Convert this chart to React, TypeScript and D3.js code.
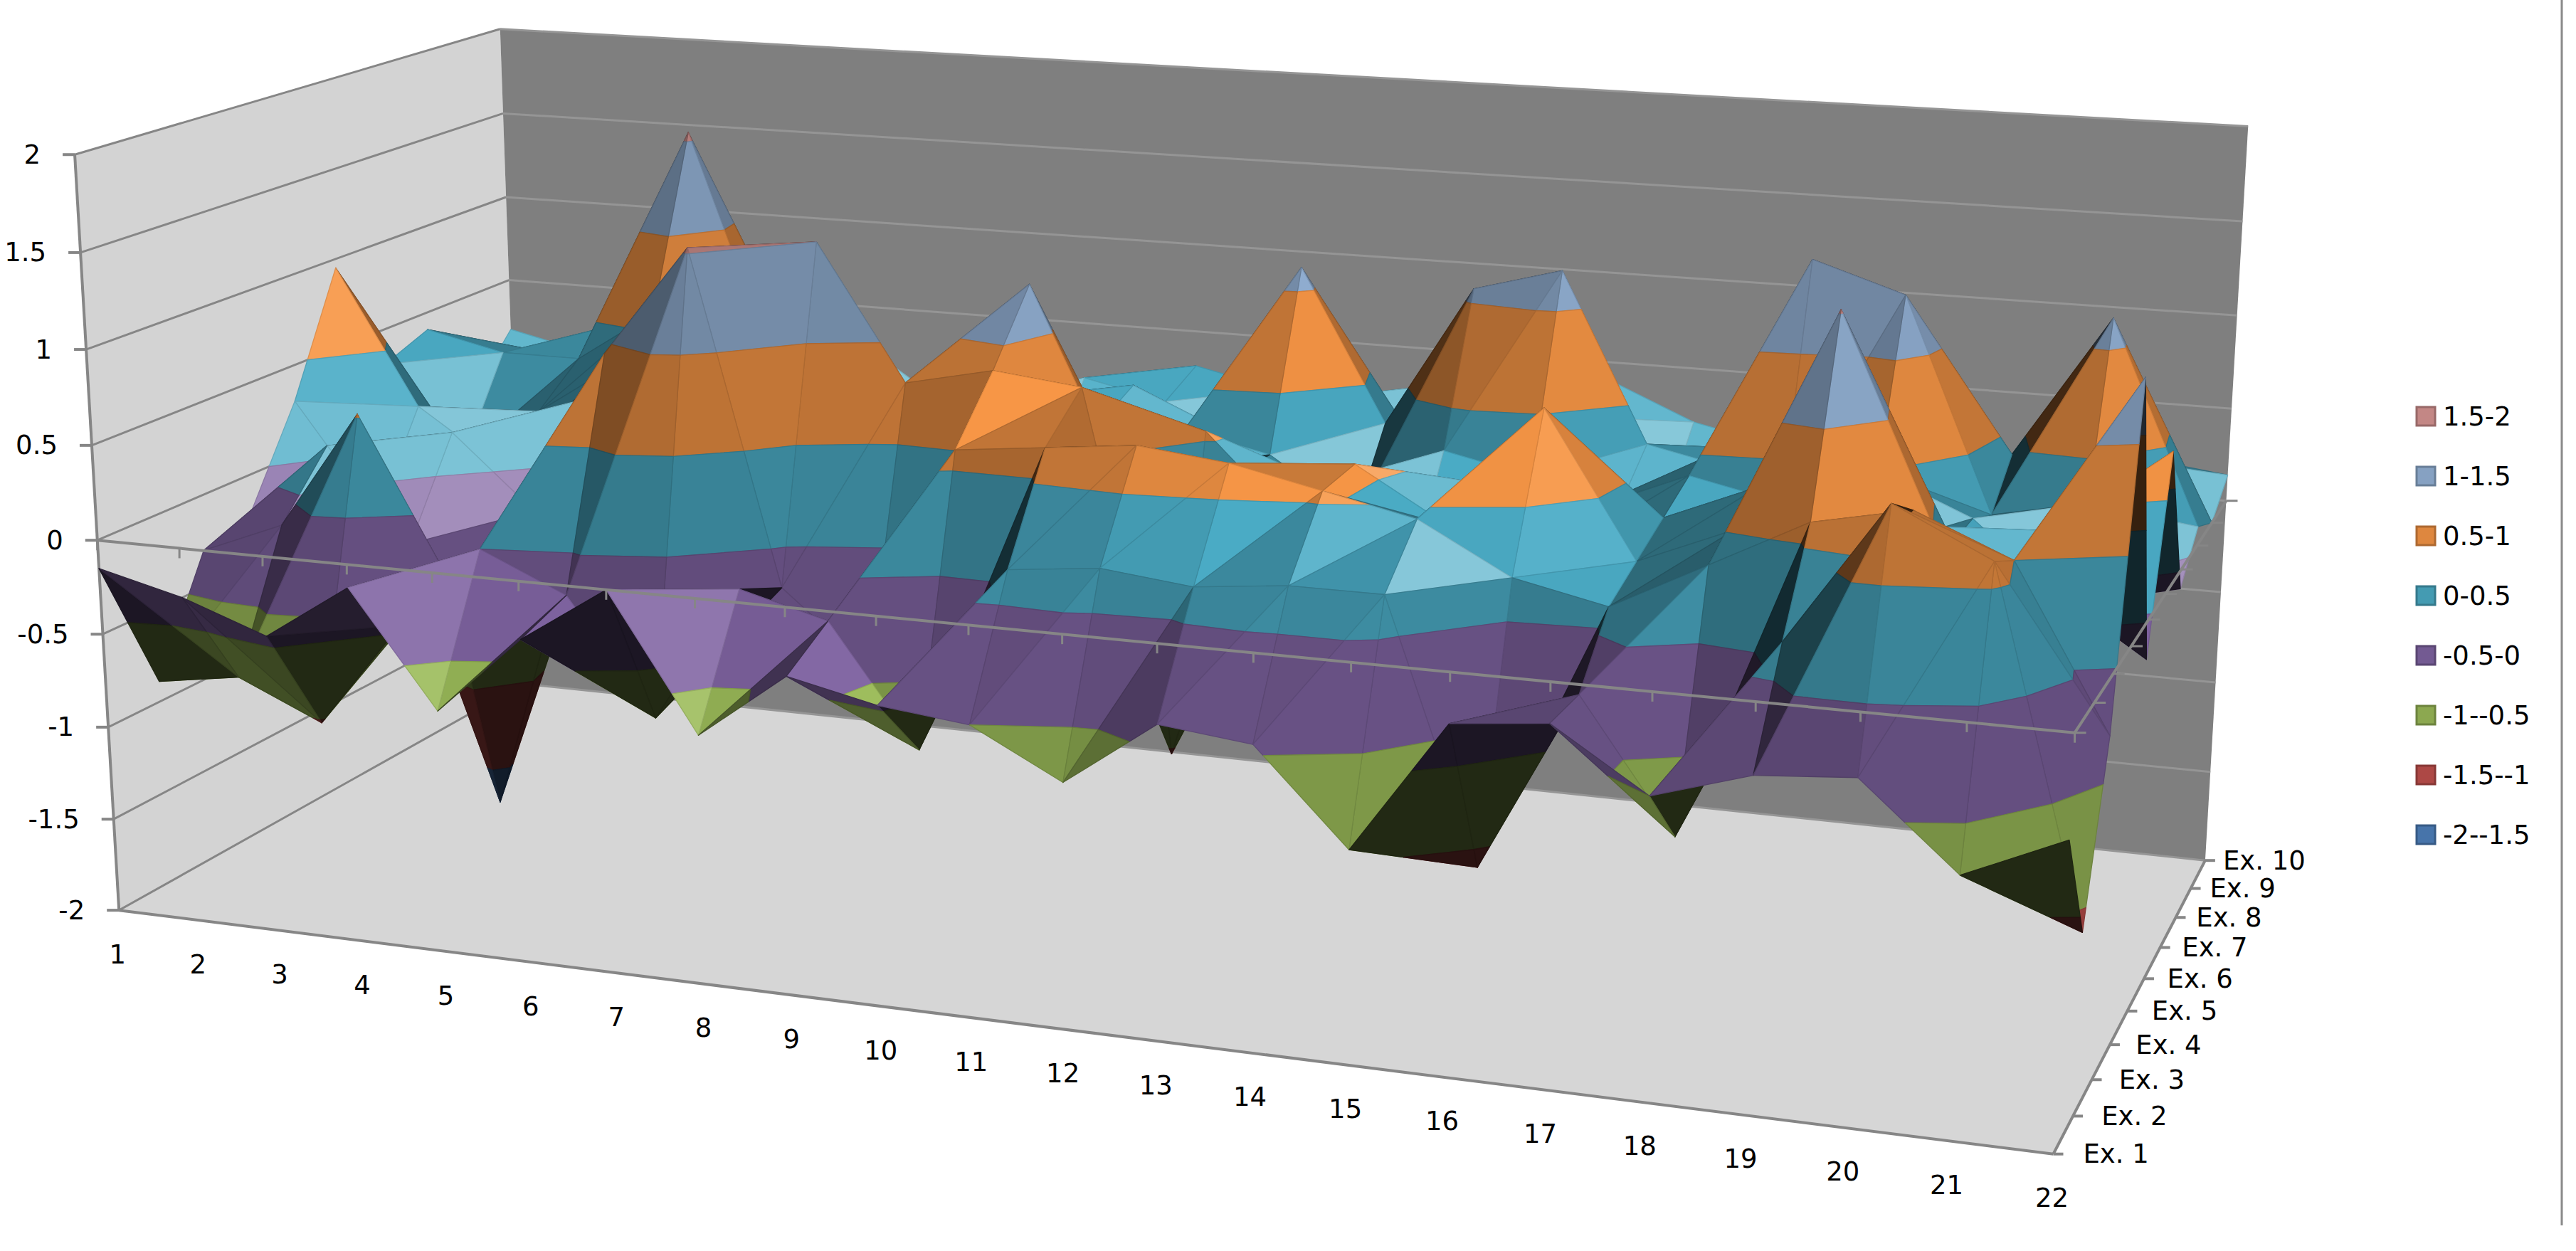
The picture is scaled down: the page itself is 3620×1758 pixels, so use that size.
import * as d3 from "d3";

// categories along the front, series along the depth
const categories = Array.from({ length: 22 }, (_, i) => String(i + 1));
const seriesNames = ["Ex. 1", "Ex. 2", "Ex. 3", "Ex. 4", "Ex. 5", "Ex. 6", "Ex. 7", "Ex. 8", "Ex. 9", "Ex. 10"];

// values, one array per series (22 categories each)
const ex1 = [-0.15, -0.26, -0.42, -0.12, -0.72, -0.3, 0.0, -0.7, -0.35, -0.45, -0.5, -0.74, -0.4, -0.45, -0.92, -0.25, -0.2, -0.5, -0.35, -0.31, -0.72, -0.5];
const ex2 = [-0.89, -0.82, -1.02, -0.45, 0.0, -0.2, -0.8, -0.08, -0.2, -0.82, 0.15, 0.2, 0.15, 0.2, 0.2, -1.11, -0.2, -0.85, 0.15, 0.85, 0.62, -1.1];
const ex3 = [-0.3, -0.12, 0.52, -0.3, -0.2, 0.95, 1.53, -0.2, -0.58, 0.6, 0.65, 0.7, 0.65, 0.55, 0.45, 0.2, 0.1, 0.35, 0.6, 0.7, 0.5, -0.3];
const ex4 = [-0.2, 0.2, -0.3, -1.7, -0.2, 0.3, -0.25, 1.5, 0.8, 0.9, 0.85, -1.03, 0.5, 0.57, 0.3, 0.93, 0.2, 0.4, 1.52, 0.5, 0.3, 1.3];
const ex5 = [0.3, -0.3, 0.2, -0.2, 0.1, 0.4, 0.3, 0.5, 0.2, 1.25, 0.3, 0.55, 0.1, 0.2, 0.4, 0.1, 0.3, 0.5, 0.2, 0.3, 0.4, -0.2];
const ex6 = [0.95, 0.2, -0.1, 0.3, -0.2, 0.2, 0.4, 0.1, 0.3, 0.3, -0.1, 0.3, 0.2, -0.2, 0.3, 0.2, 0.4, 0.3, 0.5, 0.3, -0.1, 0.72];
const ex7 = [0.3, -0.2, 0.1, 0.4, 0.2, -0.2, 0.3, 0.2, 0.4, 0.3, 0.3, 0.2, -0.1, 0.3, 0.2, 0.1, 0.4, 1.45, 1.3, 0.2, 0.3, -0.1];
const ex8 = [0.4, 0.3, 0.3, 0.6, -0.2, 0.1, 0.3, 0.2, -0.1, 0.4, 0.2, 1.12, 0.3, 1.07, 1.2, 0.3, 0.2, 0.4, 0.3, 0.4, 1.15, 0.1];
const ex9 = [-0.1, 0.2, 0.4, 1.55, 0.3, -0.2, 0.2, 0.1, 0.3, 0.2, -0.2, 0.3, 0.1, 0.2, 0.3, -0.1, 0.2, 0.3, 0.1, 0.2, 0.3, 0.0];
const ex10 = [0.2, 0.1, 0.3, 0.5, 0.1, 0.2, -0.1, 0.2, 0.1, 0.3, 0.2, 0.1, 0.3, 0.2, 0.4, 0.2, 0.1, 0.3, 0.2, -0.1, 0.2, 0.14];
const seriesValues = [ex1, ex2, ex3, ex4, ex5, ex6, ex7, ex8, ex9, ex10];

// value bands (legend order, top to bottom)
const bandLabels = ["1.5-2", "1-1.5", "0.5-1", "0-0.5", "-0.5-0", "-1--0.5", "-1.5--1", "-2--1.5"];
const bandColors = ["#D99694", "#95B3D7", "#F79646", "#4BACC6", "#8064A2", "#9BBB59", "#C0504D", "#4F81BD"];
const bandLow = [1.5, 1, 0.5, 0, -0.5, -1, -1.5, -2];
const zTicks = [2, 1.5, 1, 0.5, 0, -0.5, -1, -1.5, -2];

const W = 3620;
const H = 1758;
const FONT = "DejaVu Sans";

// box corners in data space -> pixel positions, used to fit the perspective camera
const calib: [number, number, number, number, number][] = [
  [0, 0, 2, 106, 217],
  [0, 0, 0, 136, 759],
  [0, 0, -2, 167, 1279],
  [0, 9, 2, 702, 40],
  [0, 9, 0.5, 716, 395],
  [21, 9, 2, 3158, 177],
  [21, 9, 0, 3131, 704],
  [21, 9, -2, 3097, 1209],
  [21, 0, -2, 2885, 1622],
  [21, 0, 0, 2915, 1031],
  [10, 0, -2, 1367, 1430],
  [21, 4, -2, 2991, 1420],
];

type P3 = [number, number, number];

// direct linear transform, least squares through normal equations
function solveCamera(pts: [number, number, number, number, number][]) {
  const rows: number[][] = [];
  const rhs: number[] = [];
  for (const [X, Y, Z, px, py] of pts) {
    const u = px / 1000;
    const v = py / 1000;
    rows.push([X, Y, Z, 1, 0, 0, 0, 0, -u * X, -u * Y, -u * Z]);
    rhs.push(u);
    rows.push([0, 0, 0, 0, X, Y, Z, 1, -v * X, -v * Y, -v * Z]);
    rhs.push(v);
  }
  const n = 11;
  const M = Array.from({ length: n }, () => new Array(n + 1).fill(0));
  rows.forEach((r, k) => {
    for (let i = 0; i < n; i++) {
      for (let j = 0; j < n; j++) M[i][j] += r[i] * r[j];
      M[i][n] += r[i] * rhs[k];
    }
  });
  for (let c = 0; c < n; c++) {
    let piv = c;
    for (let r = c + 1; r < n; r++) if (Math.abs(M[r][c]) > Math.abs(M[piv][c])) piv = r;
    [M[c], M[piv]] = [M[piv], M[c]];
    for (let r = 0; r < n; r++) {
      if (r === c) continue;
      const f = M[r][c] / M[c][c];
      for (let j = c; j <= n; j++) M[r][j] -= f * M[c][j];
    }
  }
  return M.map((r, i) => r[n] / r[i]);
}

const cam = solveCamera(calib);
const project = (X: number, Y: number, Z: number): [number, number, number] => {
  const w = cam[8] * X + cam[9] * Y + cam[10] * Z + 1;
  return [
    (1000 * (cam[0] * X + cam[1] * Y + cam[2] * Z + cam[3])) / w,
    (1000 * (cam[4] * X + cam[5] * Y + cam[6] * Z + cam[7])) / w,
    w,
  ];
};

const line = d3.line<[number, number]>();
const polyPath = (pts: P3[]) => line(pts.map(p => project(p[0], p[1], p[2]).slice(0, 2) as [number, number])) + "Z";
const segPath = (a: P3, b: P3) => polyPath([a, b]).replace("Z", "");

// clip a polygon to fn(p) >= 0
function clip(poly: P3[], fn: (p: P3) => number): P3[] {
  const out: P3[] = [];
  for (let i = 0; i < poly.length; i++) {
    const p = poly[i];
    const q = poly[(i + 1) % poly.length];
    const fp = fn(p);
    const fq = fn(q);
    if (fp >= 0) out.push(p);
    if (fp >= 0 !== fq >= 0) {
      const t = fp / (fp - fq);
      out.push([p[0] + t * (q[0] - p[0]), p[1] + t * (q[1] - p[1]), p[2] + t * (q[2] - p[2])]);
    }
  }
  return out;
}

// lighting: mostly from above, leaning right and front
const light = (() => {
  const l = [0.5, -0.45, 0.74];
  const m = Math.hypot(l[0], l[1], l[2]);
  return l.map(v => v / m);
})();
const scaleXYZ = [1, 1.05, 2.1];

function shade(base: string, tri: P3[]) {
  const a = tri[0].map((v, i) => v * scaleXYZ[i]);
  const b = tri[1].map((v, i) => v * scaleXYZ[i]);
  const c = tri[2].map((v, i) => v * scaleXYZ[i]);
  const u = [b[0] - a[0], b[1] - a[1], b[2] - a[2]];
  const v = [c[0] - a[0], c[1] - a[1], c[2] - a[2]];
  let n = [u[1] * v[2] - u[2] * v[1], u[2] * v[0] - u[0] * v[2], u[0] * v[1] - u[1] * v[0]];
  if (n[2] < 0) n = n.map(x => -x);
  const m = Math.hypot(n[0], n[1], n[2]) || 1;
  const d = Math.max(0, (n[0] * light[0] + n[1] * light[1] + n[2] * light[2]) / m);
  const f = 0.22 + 0.7 * d + Math.max(0, d - 0.85) * 2.5;
  const col = d3.rgb(base);
  if (f <= 1) return d3.rgb(col.r * f, col.g * f, col.b * f).formatHex();
  return d3.interpolateRgb(col, "#ffffff")(Math.min(0.4, (f - 1) * 1.2));
}

const bandOf = d3.scaleThreshold<number, number>().domain([-1.5, -1, -0.5, 0, 0.5, 1, 1.5]).range([7, 6, 5, 4, 3, 2, 1, 0]);

export default function App() {
  const grid = seriesValues;
  const nx = categories.length - 1;
  const ny = seriesNames.length - 1;

  // triangles, diagonal split of every cell
  const tris: P3[][] = [];
  for (let y = 0; y < ny; y++) {
    for (let x = 0; x < nx; x++) {
      const a: P3 = [x, y, grid[y][x]];
      const b: P3 = [x + 1, y, grid[y][x + 1]];
      const c: P3 = [x + 1, y + 1, grid[y + 1][x + 1]];
      const d: P3 = [x, y + 1, grid[y + 1][x]];
      tris.push([a, b, c], [a, c, d]);
    }
  }
  const depth = (t: P3[]) => d3.mean(t, p => project(p[0], p[1], p[2])[2]) as number;
  tris.sort((s, t) => depth(t) - depth(s));

  const facets: { d: string; fill: string }[] = [];
  tris.forEach(t => {
    const zs = t.map(p => p[2]);
    const lo = bandOf(d3.max(zs) as number);
    const hi = bandOf(d3.min(zs) as number);
    for (let b = lo; b <= hi; b++) {
      const z0 = bandLow[b];
      const z1 = z0 + 0.5;
      const poly = clip(clip(t, p => p[2] - z0), p => z1 - p[2]);
      if (poly.length < 3) continue;
      facets.push({ d: polyPath(poly), fill: shade(bandColors[b], t) });
    }
  });

  const leftWall: P3[] = [[0, 0, -2], [0, ny, -2], [0, ny, 2], [0, 0, 2]];
  const backWall: P3[] = [[0, ny, -2], [nx, ny, -2], [nx, ny, 2], [0, ny, 2]];
  const floor: P3[] = [[0, 0, -2], [nx, 0, -2], [nx, ny, -2], [0, ny, -2]];
  const axisGray = "#868686";

  return (
    <svg width={W} height={H} style={{ position: "absolute", left: 0, top: 0, background: "#fff" }} fontFamily={FONT}>
      <rect width={W} height={H} fill="#fff" />
      {/* walls and floor */}
      <path d={polyPath(leftWall)} fill="#D3D3D3" />
      <path d={polyPath(backWall)} fill="#7F7F7F" />
      <path d={polyPath(floor)} fill="#D6D6D6" />
      {zTicks.map(z => (
        <path key={"lg" + z} d={segPath([0, 0, z], [0, ny, z])} stroke={axisGray} strokeWidth={3} fill="none" />
      ))}
      {zTicks.map(z => (
        <path key={"bg" + z} d={segPath([0, ny, z], [nx, ny, z])} stroke="#959595" strokeWidth={3} fill="none" />
      ))}
      <path d={segPath([0, 0, -2], [nx, 0, -2])} stroke={axisGray} strokeWidth={4} fill="none" />
      <path d={segPath([nx, 0, -2], [nx, ny, -2])} stroke={axisGray} strokeWidth={4} fill="none" />
      <path d={segPath([0, 0, -2], [0, 0, 2])} stroke={axisGray} strokeWidth={4} fill="none" />

      {/* surface */}
      <g strokeWidth={1.3} strokeLinejoin="round">
        {facets.map((f, i) => (
          <path key={i} d={f.d} fill={f.fill} stroke={d3.rgb(f.fill).darker(0.3).formatHex()} />
        ))}
      </g>

      {/* axis lines at zero with ticks */}
      <path d={segPath([0, 0, 0], [nx, 0, 0])} stroke={axisGray} strokeWidth={4} fill="none" />
      <path d={segPath([nx, 0, 0], [nx, ny, 0])} stroke={axisGray} strokeWidth={4} fill="none" />
      {categories.map((_, x) => {
        const [px, py] = project(x, 0, 0);
        return <line key={"ct" + x} x1={px} y1={py} x2={px} y2={py + 14} stroke={axisGray} strokeWidth={3} />;
      })}
      {seriesNames.map((_, y) => {
        const [px, py] = project(nx, y, 0);
        return <line key={"st" + y} x1={px} y1={py} x2={px + 16} y2={py} stroke={axisGray} strokeWidth={3} />;
      })}

      {/* value axis */}
      {zTicks.map(z => {
        const [px, py] = project(0, 0, z);
        return (
          <g key={"zt" + z}>
            <line x1={px - 17} y1={py} x2={px} y2={py} stroke={axisGray} strokeWidth={4} />
            <text x={px - 48} y={py} textAnchor="end" dominantBaseline="central" fontSize={37} fill="#000">
              {String(z)}
            </text>
          </g>
        );
      })}

      {/* category labels */}
      {categories.map((c, x) => {
        const [px, py] = project(x, 0, -2);
        return (
          <text key={"cl" + c} x={px - 2} y={py + 62} textAnchor="middle" dominantBaseline="central" fontSize={37} fill="#000">
            {c}
          </text>
        );
      })}

      {/* series labels */}
      {seriesNames.map((s, y) => {
        const [px, py] = project(nx, y, -2);
        return (
          <g key={"sl" + s}>
            <line x1={px} y1={py} x2={px + 14} y2={py} stroke={axisGray} strokeWidth={4} />
            <text x={px + 42 - (17 * y) / ny} y={py} dominantBaseline="central" fontSize={37} fill="#000">
              {s}
            </text>
          </g>
        );
      })}

      {/* legend */}
      {bandLabels.map((b, i) => {
        const cy = 585 + i * 84;
        const col = d3.rgb(bandColors[i]);
        const fill = d3.rgb(col.r * 0.9, col.g * 0.9, col.b * 0.9);
        return (
          <g key={"lgd" + b}>
            <rect x={3396} y={cy - 13} width={26} height={26} fill={fill.formatHex()} stroke={fill.darker(0.7).formatHex()} strokeWidth={3} />
            <text x={3433} y={cy} dominantBaseline="central" fontSize={37} fill="#000">
              {b}
            </text>
          </g>
        );
      })}

      <line x1={3600} y1={0} x2={3600} y2={1722} stroke="#8a8a8a" strokeWidth={3} />
    </svg>
  );
}
